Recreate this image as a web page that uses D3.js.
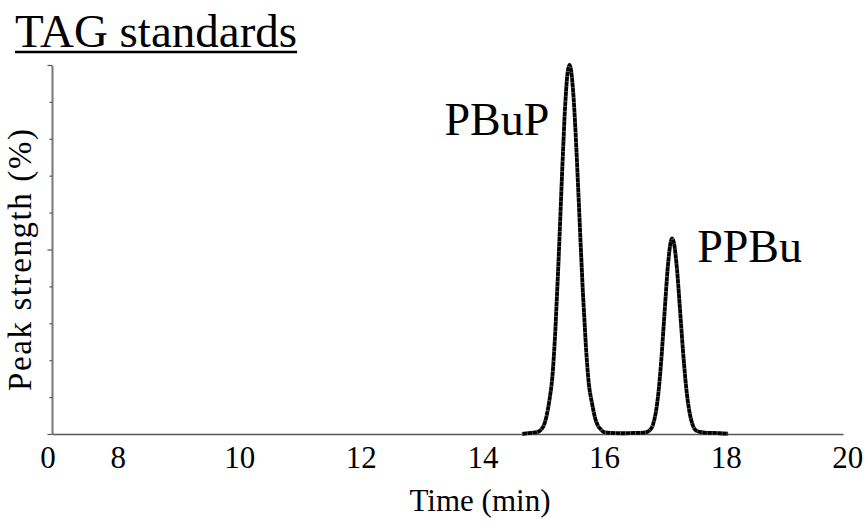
<!DOCTYPE html>
<html>
<head>
<meta charset="utf-8">
<script src="https://cdn.jsdelivr.net/npm/d3@7"></script>
<style>
  body { margin: 0; background: #fff; }
  text { font-family: "Liberation Serif", "Times New Roman", serif; fill: #000; }
</style>
</head>
<body>
<div id="chart"></div>
<script>
var svgWidth = 868;
var svgHeight = 522;

// chromatogram trace: time (min) and peak strength (%)
var times = [14.65, 14.80, 14.90, 15.00, 15.05, 15.10, 15.15, 15.20, 15.25, 15.30, 15.35, 15.40, 15.43,
  15.45, 15.50, 15.55, 15.60, 15.65, 15.70, 15.75, 15.80, 15.85, 15.90, 15.95, 16.00, 16.10, 16.30,
  16.50, 16.60, 16.70, 16.75, 16.80, 16.85, 16.90, 16.95, 17.00, 17.05, 17.10, 17.12, 17.15, 17.20,
  17.25, 17.30, 17.35, 17.40, 17.45, 17.50, 17.55, 17.60, 17.70, 17.80, 17.90, 18.04];
var strength = [0, 0.3, 0.5, 2, 4.5, 9, 15.5, 28.4, 46.3, 66.8, 85.9, 97.9, 100,
  99.2, 90.9, 75.5, 57, 38.9, 24.1, 13.5, 8.5, 4.5, 2.2, 1.2, 0.5, 0.3, 0.2,
  0.3, 0.3, 0.5, 1.0, 2.3, 5.7, 12.1, 22, 34.1, 45.6, 52.3, 53, 51.7, 44.6,
  33.5, 22.1, 12.7, 6.4, 2.8, 1.1, 0.7, 0.5, 0.3, 0.3, 0.2, 0.1];

var xTicks = [8, 10, 12, 14, 16, 18, 20];
var yTicks = [0, 10, 20, 30, 40, 50, 60, 70, 80, 90, 100];
var yMajor = [0, 50, 100];

var peakNames = ["PBuP", "PPBu"];
var peakTimes = [15.43, 17.12];
var peakHeights = [100, 53];

var svg = d3.select("#chart")
  .append("svg")
  .attr("width", svgWidth)
  .attr("height", svgHeight);

var x = d3.scaleLinear().domain([6.92, 19.93]).range([52, 843]);
var y = d3.scaleLinear().domain([0, 100]).range([434, 65]);

// title, underlined by hand
var title = svg.append("text")
  .attr("x", 15)
  .attr("y", 47)
  .attr("font-size", 47)
  .text("TAG standards");
var tw = title.node().getComputedTextLength();
svg.append("line")
  .attr("x1", 15).attr("x2", 15 + tw)
  .attr("y1", 52).attr("y2", 52)
  .attr("stroke", "#000")
  .attr("stroke-width", 2.5);

// x axis: line and labels only, origin labelled 0 (broken axis)
var xAxis = svg.append("g")
  .attr("transform", "translate(0,434)")
  .call(d3.axisBottom(x).tickValues(xTicks).tickSize(0).tickPadding(12).tickSizeOuter(0));
xAxis.attr("font-size", null).attr("font-family", null);
xAxis.select(".domain").attr("stroke", "#555").attr("stroke-width", 1.5);
xAxis.selectAll("text").style("font-size", "31px").attr("fill", "#000");
xAxis.append("text")
  .attr("x", x.range()[0] - 4)
  .attr("y", 12)
  .attr("dy", "0.71em")
  .attr("text-anchor", "middle")
  .style("font-size", "31px")
  .text("0");

// y axis with minor ticks, no labels
var yAxis = svg.append("g")
  .attr("transform", "translate(52,0)")
  .call(d3.axisLeft(y).tickValues(yTicks).tickFormat("").tickSize(2.5).tickSizeOuter(0));
yAxis.select(".domain").attr("stroke", "#777").attr("stroke-width", 2);
yAxis.selectAll(".tick line")
  .attr("stroke", "#555")
  .attr("stroke-width", 1.2)
  .attr("x2", d => yMajor.indexOf(d) >= 0 ? -4.5 : -2.5);

// axis titles
svg.append("text")
  .attr("x", 480)
  .attr("y", 511)
  .attr("text-anchor", "middle")
  .attr("font-size", 31)
  .text("Time (min)");

svg.append("text")
  .attr("transform", "translate(31,260) rotate(-90)")
  .attr("text-anchor", "middle")
  .attr("font-size", 33)
  .attr("textLength", 262)
  .attr("lengthAdjust", "spacing")
  .text("Peak strength (%)");

// the trace
var pts = times.map((t, i) => [t, strength[i]]);
var line = d3.line()
  .x(d => x(d[0]))
  .y(d => y(d[1]))
  .curve(d3.curveMonotoneX);

svg.append("path")
  .datum(pts)
  .attr("fill", "none")
  .attr("stroke", "#000")
  .attr("stroke-width", 3.8)
  .attr("stroke-linejoin", "round")
  .attr("d", line);

// faint white specks like the marker texture in the original
svg.append("path")
  .datum(pts)
  .attr("fill", "none")
  .attr("stroke", "#fff")
  .attr("stroke-opacity", 0.5)
  .attr("stroke-width", 3.8)
  .attr("stroke-dasharray", "0.6 4.4")
  .attr("d", line);

// peak labels
svg.selectAll(".peak")
  .data(peakNames)
  .enter()
  .append("text")
  .attr("class", "peak")
  .attr("x", (d, i) => i === 0 ? x(peakTimes[i]) - 20 : x(peakTimes[i]) + 25)
  .attr("y", (d, i) => i === 0 ? y(peakHeights[i]) + 70 : y(peakHeights[i]) + 24)
  .attr("text-anchor", (d, i) => i === 0 ? "end" : "start")
  .attr("font-size", 46)
  .text(d => d);
</script>
</body>
</html>
